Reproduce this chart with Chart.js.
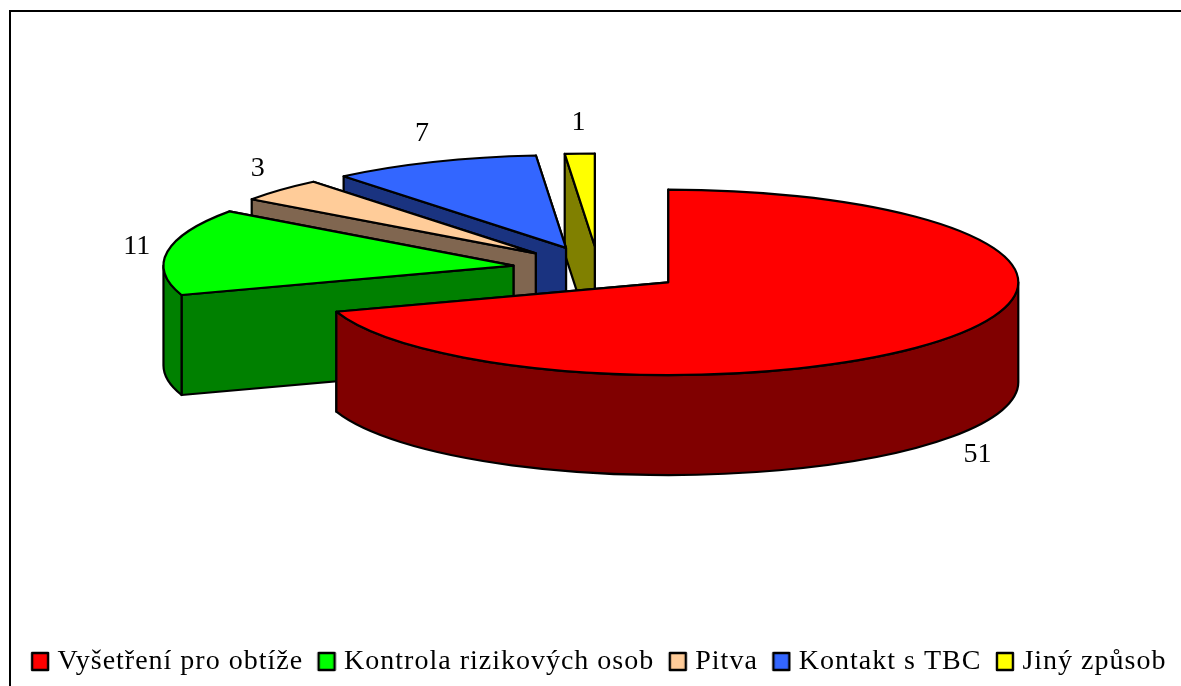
<!DOCTYPE html>
<html><head><meta charset="utf-8">
<style>html,body{margin:0;padding:0;background:#fff}canvas{display:block}</style>
<script src="https://cdn.jsdelivr.net/npm/chart.js@4"></script>
</head><body><canvas id="c" width="1181" height="686"></canvas>
<script>
const categories = ["Vyšetření pro obtíže","Kontrola rizikových osob","Pitva","Kontakt s TBC","Jiný způsob"];
const values = [51,11,3,7,1];
const topColors = ["#FF0000","#00FF00","#FFCC99","#3366FF","#FFFF00"];
const sideColors = ["#800000","#008000","#806650","#1A3380","#808000"];

const pie3d = {
  id:'pie3d',
  beforeLayout(chart,args,o){ chart.ctx.letterSpacing=o.legendSpacing; },
  beforeDraw(chart,args,o){
    const c=chart.ctx;
    c.letterSpacing=o.legendSpacing;
    c.save();
    c.fillStyle='#fff';c.fillRect(0,0,chart.width,chart.height);
    c.strokeStyle='#000';c.lineWidth=2;
    c.beginPath();c.moveTo(10,chart.height);c.lineTo(10,11);c.lineTo(chart.width,11);c.stroke();
    c.restore();
  },
  beforeDatasetsDraw(chart,args,o){
    const c=chart.ctx, arcs=chart.getDatasetMeta(0).data;
    const T=o.tilt,H=o.depth,E=o.explode;
    c.save();
    c.lineWidth=2.2;c.strokeStyle='#000';c.lineJoin='round';
    const shape=(fill,build)=>{c.beginPath();build();c.closePath();c.fillStyle=fill;c.fill();c.stroke();};
    for(let i=arcs.length-1;i>=0;i--){
      const a=arcs[i],s=a.startAngle,e=a.endAngle,R=a.outerRadius,mid=(s+e)/2;
      const x=a.x+Math.cos(mid)*E, y=o.centerY+Math.sin(mid)*E*T, r=R*T;
      const px=t=>x+Math.cos(t)*R, py=t=>y+Math.sin(t)*r;
      const side=sideColors[i];
      const face=t=>shape(side,()=>{c.moveTo(x,y);c.lineTo(px(t),py(t));c.lineTo(px(t),py(t)+H);c.lineTo(x,y+H);});
      face(e);face(s);
      const w0=Math.max(s,0),w1=Math.min(e,Math.PI);
      if(w1>w0){
        shape(side,()=>{c.ellipse(x,y,R,r,0,w0,w1);c.lineTo(px(w1),py(w1)+H);c.ellipse(x,y+H,R,r,0,w1,w0,true);});
      }
      shape(topColors[i],()=>{c.moveTo(x,y);c.ellipse(x,y,R,r,0,s,e);});
    }
    c.fillStyle='#000';c.font=o.labelFont;c.textAlign='center';c.textBaseline='middle';c.letterSpacing='0px';
    arcs.forEach((a,i)=>{
      const mid=(a.startAngle+a.endAngle)/2,R=a.outerRadius;
      const x=a.x+Math.cos(mid)*E, y=o.centerY+Math.sin(mid)*E*T;
      const lx=x+Math.cos(mid)*(R+o.labelGap), ly=y+Math.sin(mid)*(R*T+o.labelGap)+(Math.sin(mid)>0?H:0);
      c.fillText(String(values[i]),lx,ly);
    });
    c.restore();
    return false;
  }
};

function legendSwatch(color){
  const s=document.createElement('canvas');s.width=26;s.height=22;
  const g=s.getContext('2d');
  g.fillStyle=color;g.strokeStyle='#000';g.lineWidth=2.4;g.lineJoin='round';
  g.beginPath();g.rect(8,2,16,17);g.fill();g.stroke();
  return s;
}

const canvas=document.getElementById('c');
new Chart(canvas,{
  type:'pie',
  data:{labels:categories,datasets:[{data:values,backgroundColor:topColors,borderColor:'#000',borderWidth:2}]},
  plugins:[pie3d],
  options:{
    responsive:false,animation:false,radius:350,
    layout:{padding:{left:16,right:0,top:0,bottom:0}},
    plugins:{
      tooltip:{enabled:false},
      legend:{position:'bottom',labels:{font:{family:'"Liberation Serif"',size:28},color:'#000',usePointStyle:true,boxWidth:13,boxHeight:13,padding:14,
        generateLabels(chart){
          return Chart.overrides.pie.plugins.legend.labels.generateLabels(chart).map((it,i)=>({...it,pointStyle:legendSwatch(topColors[i])}));
        }}},
      pie3d:{tilt:0.265,depth:100,explode:86,centerY:269,labelGap:31,legendSpacing:'1px',labelFont:'28px "Liberation Serif"'}
    }
  }
});
</script></body></html>
